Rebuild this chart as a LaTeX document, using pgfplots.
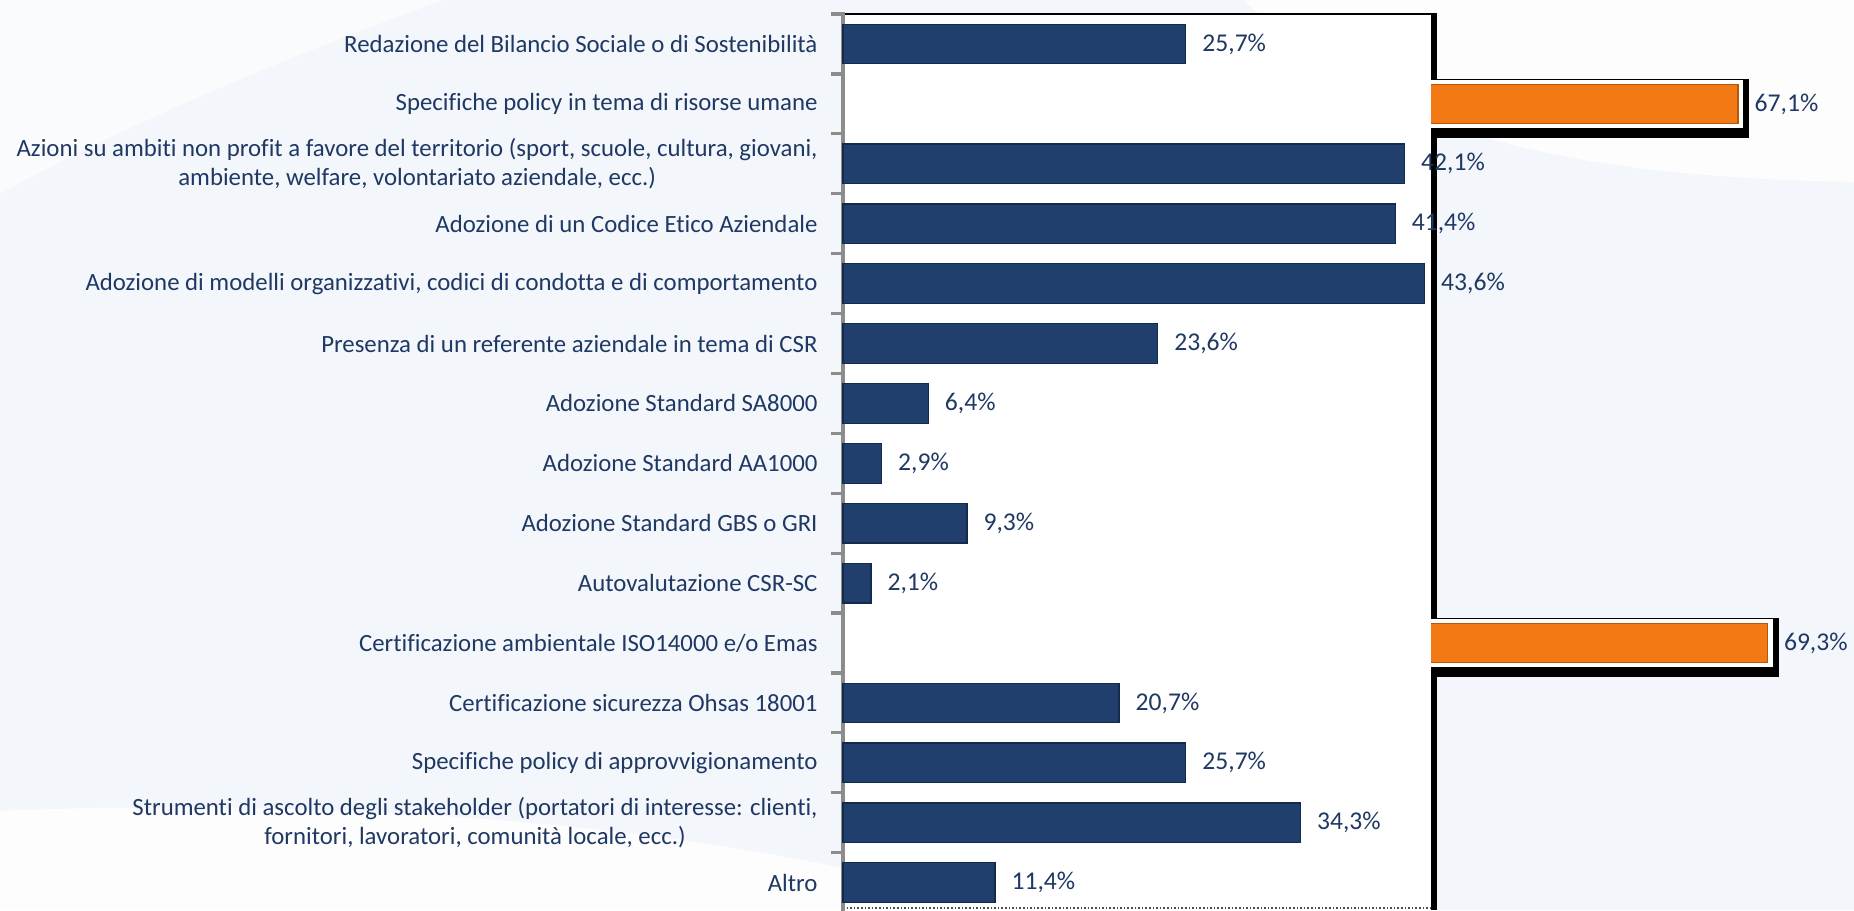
\documentclass[border=0pt]{standalone}
\usepackage{fontspec}
\setmainfont[Ligatures=NoCommon]{Carlito}
\usepackage{pgfplots}
\pgfplotsset{compat=1.18}
\usetikzlibrary{backgrounds}

\definecolor{txtblue}{HTML}{1F3864}
\definecolor{bgcol}{HTML}{F3F7FB}
\definecolor{bluemid}{HTML}{213F6D}
\definecolor{bluebot}{HTML}{142A4D}
\definecolor{orgmid}{HTML}{F27914}
\definecolor{orgbot}{HTML}{B4580C}
\definecolor{axisgray}{HTML}{8C8C8C}

\begin{document}
\begin{tikzpicture}
\begin{axis}[
  anchor=origin, at={(0,0)},
  x=6.67pt, y=29.95pt, y dir=reverse,
  xmin=0, xmax=44.5, ymin=-0.5, ymax=14.45,
  clip=false,
  axis line style={draw=none},
  xtick=\empty,
  ytick={0,...,14},
  ytick pos=left,
  major tick length=0pt,
  minor ytick={-0.5,0.5,...,14.5},
  minor tick length=6pt,
  tick align=outside,
  minor tick style={axisgray, line width=1.6pt},
  yticklabels={
    Redazione del Bilancio Sociale o di Sostenibilità,
    Specifiche policy in tema di risorse umane,
    {Azioni su ambiti non profit a favore del territorio (sport, scuole, cultura, giovani,\\ambiente, welfare, volontariato aziendale, ecc.)},
    Adozione di un Codice Etico Aziendale,
    {Adozione di modelli organizzativi, codici di condotta e di comportamento},
    Presenza di un referente aziendale in tema di CSR,
    Adozione Standard SA8000,
    Adozione Standard AA1000,
    Adozione Standard GBS o GRI,
    Autovalutazione CSR-SC,
    Certificazione ambientale ISO14000 e/o Emas,
    Certificazione sicurezza Ohsas 18001,
    Specifiche policy di approvvigionamento,
    {Strumenti di ascolto degli stakeholder (portatori di interesse: clienti,\\fornitori, lavoratori, comunità locale, ecc.)},
    Altro},
  yticklabel style={font=\fontsize{12.4}{14.6}\selectfont, text=txtblue,
    align=center, inner sep=0pt, xshift=-12.5pt},
  xbar, bar width=0.66, bar shift=0pt,
  point meta=x,
  nodes near coords={\pgfmathprintnumber[use comma,fixed,fixed zerofill,precision=1,assume math mode=true]{\pgfplotspointmeta}\%},
  every node near coord/.append style={font=\fontsize{12.8}{15}\selectfont,
    text=txtblue, inner sep=0pt, anchor=west, xshift=8pt},
]
% frames round the orange bars, beyond the plot box
\fill[black] (axis cs:44.1,0.59) rectangle (axis cs:67.93,1.565);
\fill[white] (axis cs:44.1,0.603) rectangle (axis cs:67.48,1.397);
\fill[black] (axis cs:44.1,9.59) rectangle (axis cs:70.13,10.565);
\fill[white] (axis cs:44.1,9.603) rectangle (axis cs:69.68,10.397);

\addplot[draw=orgbot, line width=0.6pt, fill=orgmid]
  coordinates {(67.1,1) (69.3,10)};

% plot box (covers the orange bars inside it)
\fill[white] (axis cs:0,-0.5) rectangle (axis cs:44.1,14.45);
\fill[black] (axis cs:44.1,-0.5) rectangle (axis cs:44.5,0.603);
\fill[black] (axis cs:44.1,1.397) rectangle (axis cs:44.5,9.603);
\fill[black] (axis cs:44.1,10.397) rectangle (axis cs:44.5,14.45);
\draw[black, line width=0.8pt] (axis cs:0,-0.5) -- (axis cs:44.5,-0.5);
\draw[black!70, line width=0.8pt, densely dotted] (axis cs:0,14.42) -- (axis cs:44.1,14.42);
\draw[axisgray, line width=1.6pt] (axis cs:0,-0.535) -- (axis cs:0,14.5);

\addplot[draw=bluebot, line width=0.6pt, fill=bluemid]
  coordinates {
    (25.7,0) (42.1,2) (41.4,3) (43.6,4) (23.6,5) (6.4,6) (2.9,7)
    (9.3,8) (2.1,9) (20.7,11) (25.7,12) (34.3,13) (11.4,14)
  };
\end{axis}

\begin{scope}[on background layer, x=6.67pt, y=-29.95pt]
  \fill[bgcol] (-63.19,-0.735) rectangle (75.79,14.457);
  \fill[white, opacity=0.85] (30,-0.735) .. controls (40,1.2) and (50,2.2) .. (75.79,2.3)
    -- (75.79,-0.735) -- cycle;
  \fill[white, opacity=0.5] (-63.19,-0.735) -- (-30,-0.735) .. controls (-45,0.5) and (-55,1.5) .. (-63.19,2.5) -- cycle;
  \fill[white, opacity=0.85] (-63.19,12.8) .. controls (-40,12.6) and (-10,12.9) .. (12,14.457)
    -- (-63.19,14.457) -- cycle;
\end{scope}
\pgfresetboundingbox
\path[use as bounding box] (-63.19*6.67pt,0.735*29.95pt) rectangle (75.79*6.67pt,-14.457*29.95pt);
\end{tikzpicture}
\end{document}
